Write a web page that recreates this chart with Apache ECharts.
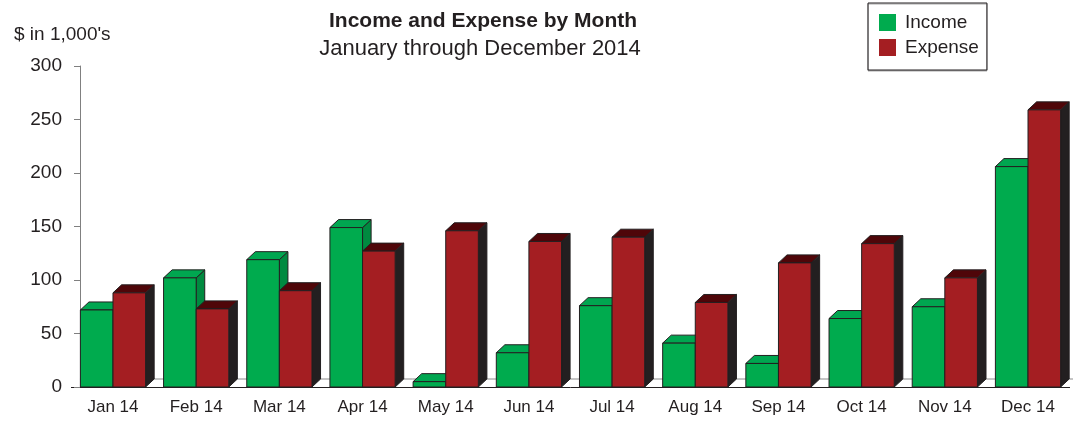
<!DOCTYPE html>
<html><head><meta charset="utf-8">
<script src="https://cdn.jsdelivr.net/npm/echarts@6/dist/echarts.min.js"></script>
<style>html,body{margin:0;padding:0;background:#fff}#c{width:1073px;height:421px}</style>
</head><body><div id="c"></div>
<script>
const categories = ['Jan 14','Feb 14','Mar 14','Apr 14','May 14','Jun 14','Jul 14','Aug 14','Sep 14','Oct 14','Nov 14','Dec 14'];
const income  = [72, 102, 119, 149, 5, 32, 76, 41, 22, 64, 75, 206];
const expense = [88, 73, 90, 127, 146, 136, 140, 79, 116, 134, 102, 259];
const yTicks = [0, 50, 100, 150, 200, 250, 300];

const FONT = '"Liberation Sans", Arial, sans-serif';
const DEPTH_Y = 8;
const EDGE = '#231f20';
const styles = [
  {front:'#00ab4e', top:'#00a650', side:'#008a40'},
  {front:'#a41e22', top:'#4f0609', side:'#231f20'}
];

function barRenderer(idx){
  return function(params, api){
    const cat = api.value(0), val = api.value(1);
    const base = api.coord([cat, 0]);
    const top = api.coord([cat, val]);
    const band = api.size([1, 0])[0];
    const bw = band * 0.392;
    const dx = band * 0.103, dy = DEPTH_Y;
    const x0 = base[0] + (idx === 0 ? -bw : 0);
    const x1 = x0 + bw, yb = base[1], yt = top[1];
    const s = styles[idx];
    const st = {stroke: EDGE, lineWidth: 1};
    return {type:'group', children:[
      {type:'polygon', shape:{points:[[x1,yt],[x1+dx,yt-dy],[x1+dx,yb-dy],[x1,yb]]}, style:Object.assign({fill:s.side}, st)},
      {type:'polygon', shape:{points:[[x0,yt],[x1,yt],[x1+dx,yt-dy],[x0+dx,yt-dy]]}, style:Object.assign({fill:s.top}, st)},
      {type:'rect', shape:{x:x0, y:yt, width:bw, height:yb-yt}, style:Object.assign({fill:s.front}, st)}
    ]};
  };
}

function floorRenderer(params, api){
  const cat = api.value(0);
  const base = api.coord([cat, 0]);
  const band = api.size([1, 0])[0];
  const dx = band * 0.103;
  const y = base[1] - DEPTH_Y;
  return {type:'line', shape:{x1: base[0]-band/2+dx, y1:y, x2: base[0]+band/2+dx, y2:y}, style:{stroke:'#8a8a8a', lineWidth:1}};
}

const chart = echarts.init(document.getElementById('c'), null, {renderer:'canvas'});
chart.setOption({
  animation: false,
  backgroundColor: '#fff',
  title: [
    {text:'Income and Expense by Month', left:478, top:6, textAlign:'center',
     textStyle:{fontFamily:FONT, fontSize:21, fontWeight:'bold', color:EDGE}},
    {text:'January through December 2014', left:475, top:33, textAlign:'center',
     textStyle:{fontFamily:FONT, fontSize:22, fontWeight:'normal', color:EDGE}},
    {text:"$ in 1,000's", left:9, top:20,
     textStyle:{fontFamily:FONT, fontSize:19, fontWeight:'normal', color:EDGE}}
  ],
  legend: {
    orient:'vertical', left:868, top:3, itemWidth:17, itemHeight:17, itemGap:6,
    padding:[10,8,13,11], borderColor:EDGE, borderWidth:1, backgroundColor:'#fff',
    shadowColor:'#aaa', shadowOffsetX:0, shadowOffsetY:1, shadowBlur:0,
    icon:'rect',
    textStyle:{fontFamily:FONT, fontSize:19, color:EDGE, padding:[0,0,0,4]},
    data:['Income','Expense']
  },
  grid: {left:71.4, right:3.4, top:66, bottom:34, containLabel:false},
  xAxis: {
    type:'category', data:categories,
    axisLine:{lineStyle:{color:EDGE, width:1}},
    axisTick:{show:false},
    axisLabel:{fontFamily:FONT, fontSize:17, color:EDGE, margin:12}
  },
  yAxis: {
    type:'value', min:0, max:300, interval:50, offset:-8.6,
    axisLine:{show:true, lineStyle:{color:'#808080'}},
    axisTick:{show:true, length:6, lineStyle:{color:'#808080'}},
    splitLine:{show:false},
    axisLabel:{fontFamily:FONT, fontSize:19, color:EDGE, margin:18,
      formatter: v => yTicks.includes(v) ? String(v) : ''}
  },
  series: [
    {type:'custom', name:'floor', renderItem:floorRenderer, data:categories.map((c,i)=>[i,0]), z:1, silent:true},
    {type:'custom', name:'Income', renderItem:barRenderer(0), itemStyle:{color:styles[0].front},
     data:income.map((v,i)=>[i,v]), encode:{x:0,y:1}, z:2},
    {type:'custom', name:'Expense', renderItem:barRenderer(1), itemStyle:{color:styles[1].front},
     data:expense.map((v,i)=>[i,v]), encode:{x:0,y:1}, z:3}
  ]
});
</script></body></html>
